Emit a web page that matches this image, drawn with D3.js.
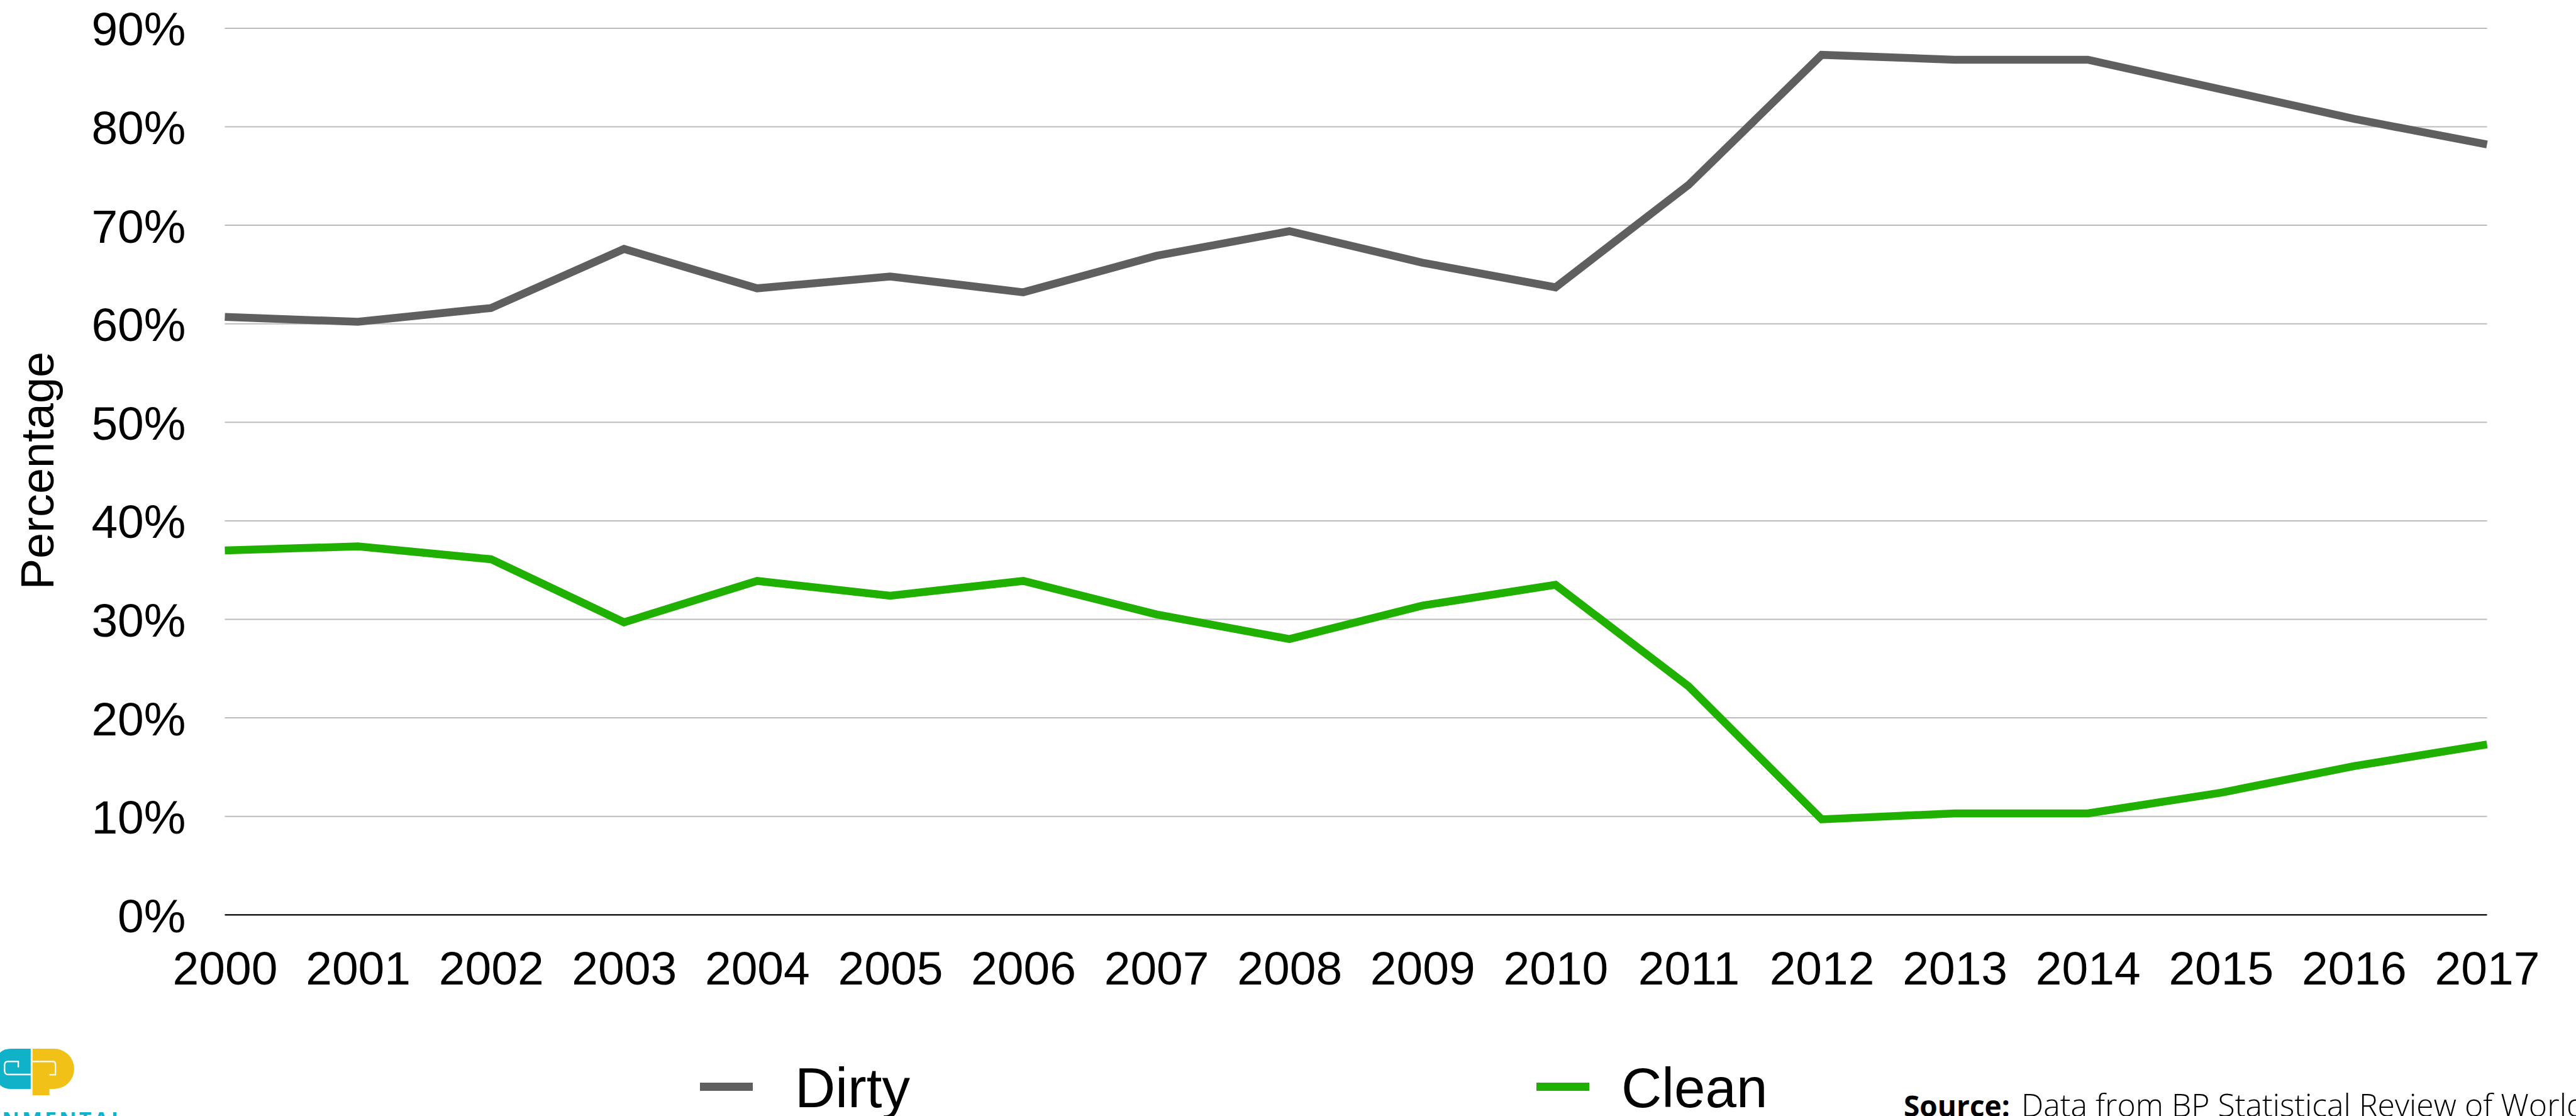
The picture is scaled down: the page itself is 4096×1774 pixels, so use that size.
<!DOCTYPE html>
<html>
<head>
<meta charset="utf-8">
<script src="https://cdn.jsdelivr.net/npm/d3@7"></script>
<style>
  html, body { margin: 0; padding: 0; background: #fff; overflow: hidden; }
  svg { display: block; }
</style>
</head>
<body>
<div id="chart"></div>
<script>
const years = ['2000', '2001', '2002', '2003', '2004', '2005', '2006', '2007', '2008',
  '2009', '2010', '2011', '2012', '2013', '2014', '2015', '2016', '2017'];
const dirty = [60.7, 60.2, 61.6, 67.6, 63.6, 64.8, 63.2, 66.9, 69.4,
  66.2, 63.7, 74.1, 87.3, 86.8, 86.8, 83.8, 80.8, 78.2];
const clean = [37.0, 37.4, 36.1, 29.7, 33.9, 32.4, 33.9, 30.5, 28.0,
  31.4, 33.5, 23.2, 9.7, 10.3, 10.3, 12.4, 15.1, 17.3];
const yTicks = [0, 10, 20, 30, 40, 50, 60, 70, 80, 90];
const seriesNames = ['Dirty', 'Clean'];

const colors = { Dirty: '#5f5f5f', Clean: '#1fb000' };

const width = 4096;
const height = 1774;
const plot = { left: 357.5, right: 3954.5, top: 44.9, bottom: 1454.3 };
const font = '"Liberation Sans", Arial, Helvetica, sans-serif';

const svg = d3.select('#chart').append('svg')
  .attr('width', width)
  .attr('height', height)
  .attr('viewBox', [0, 0, width, height]);

const x = d3.scalePoint().domain(years).range([plot.left, plot.right]);
const y = d3.scaleLinear().domain([0, 90]).range([plot.bottom, plot.top]);

// gridlines
svg.append('g')
  .selectAll('line')
  .data(yTicks)
  .join('line')
  .attr('x1', plot.left)
  .attr('x2', plot.right)
  .attr('y1', (d) => y(d))
  .attr('y2', (d) => y(d))
  .attr('stroke', (d) => (d === 0 ? '#1a1a1a' : '#bcbcbc'))
  .attr('stroke-width', (d) => (d === 0 ? 2.4 : 2));

// y axis labels
const yAxis = svg.append('g')
  .attr('transform', `translate(${plot.left},0)`)
  .call(d3.axisLeft(y).tickValues(yTicks).tickFormat((d) => d + '%').tickSize(0).tickPadding(62));
yAxis.select('.domain').remove();
yAxis.selectAll('text')
  .attr('font-family', font)
  .attr('font-size', 75)
  .attr('fill', '#000')
  .attr('dy', '0.36em');

// x axis labels
const xAxis = svg.append('g')
  .attr('transform', `translate(0,${plot.bottom})`)
  .call(d3.axisBottom(x).tickSize(0).tickPadding(57.5));
xAxis.select('.domain').remove();
xAxis.selectAll('text')
  .attr('font-family', font)
  .attr('font-size', 75)
  .attr('fill', '#000');

svg.append('text')
  .attr('transform', 'translate(85,748) rotate(-90)')
  .attr('text-anchor', 'middle')
  .attr('font-family', font)
  .attr('font-size', 74)
  .attr('fill', '#000')
  .text('Percentage');

// lines
const line = d3.line()
  .x((d, i) => x(years[i]))
  .y((d) => y(d));

const series = [
  { name: 'Dirty', values: dirty },
  { name: 'Clean', values: clean },
];

svg.append('g')
  .selectAll('path')
  .data(series)
  .join('path')
  .attr('d', (d) => line(d.values))
  .attr('fill', 'none')
  .attr('stroke', (d) => colors[d.name])
  .attr('stroke-width', 12.5)
  .attr('stroke-linejoin', 'miter')
  .attr('stroke-linecap', 'butt');

// legend
const legendX = d3.scaleOrdinal().domain(seriesNames).range([1113, 2443]);
const legendTextX = d3.scaleOrdinal().domain(seriesNames).range([1264, 2578]);
const legend = svg.append('g')
  .selectAll('g')
  .data(seriesNames)
  .join('g');

legend.append('rect')
  .attr('x', (d) => legendX(d))
  .attr('y', 1721)
  .attr('width', 84)
  .attr('height', 13)
  .attr('fill', (d) => colors[d]);

legend.append('text')
  .attr('x', (d) => legendTextX(d))
  .attr('y', 1760)
  .attr('font-family', font)
  .attr('font-size', 89)
  .attr('fill', '#000')
  .text((d) => d);

// source note
const source = svg.append('text')
  .attr('y', 1775)
  .attr('font-family', '"Open Sans", "Noto Sans", sans-serif')
  .attr('fill', '#000');
source.append('tspan')
  .attr('x', 3027)
  .attr('font-size', 46)
  .attr('font-weight', 700)
  .text('Source:');
source.append('tspan')
  .attr('x', 3214)
  .attr('font-size', 50)
  .attr('font-weight', 300)
  .text('Data from BP Statistical Review of World');

// logo, bottom left
const logo = svg.append('g');
logo.append('path')
  .attr('d', 'M48.8,1667 H18 Q-8,1667 -8,1699 Q-8,1731 18,1731 H48.8 Z')
  .attr('fill', '#10b2c9');
logo.append('path')
  .attr('d', 'M29.1,1696.7 V1687.4 H12.2 Q7.3,1687.4 7.3,1693.2 V1701.9 Q7.3,1708 13.1,1708 H48.8')
  .attr('fill', 'none')
  .attr('stroke', '#fff')
  .attr('stroke-width', 2.3);
logo.append('path')
  .attr('d', 'M51.7,1667 H86 A32,32 0 0 1 86,1731 H78.5 V1741 H51.7 Z')
  .attr('fill', '#f2c118');
logo.append('path')
  .attr('d', 'M51.7,1687.4 H84.3 Q88.1,1687.4 88.1,1691.7 V1708.3 H78.5')
  .attr('fill', 'none')
  .attr('stroke', '#fff')
  .attr('stroke-width', 2.3);
logo.append('text')
  .attr('x', 200)
  .attr('y', 1792)
  .attr('text-anchor', 'end')
  .attr('font-family', '"Open Sans", sans-serif')
  .attr('font-weight', 700)
  .attr('font-size', 34)
  .attr('letter-spacing', 4)
  .attr('fill', '#10b2c9')
  .text('ENVIRONMENTAL');
</script>
</body>
</html>
